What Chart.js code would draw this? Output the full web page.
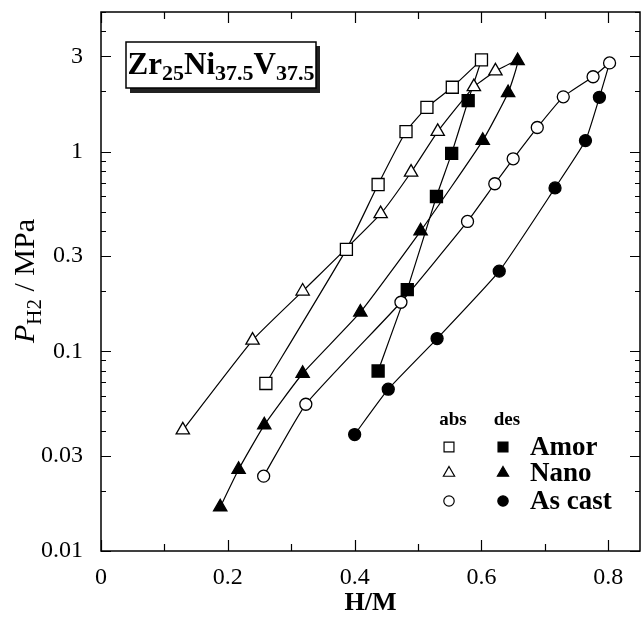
<!DOCTYPE html>
<html>
<head>
<meta charset="utf-8">
<script src="https://cdn.jsdelivr.net/npm/chart.js@4/dist/chart.umd.min.js"></script>
<style>
  html, body { margin: 0; padding: 0; background: #fff; }
</style>
</head>
<body>
<canvas id="pct" width="641" height="635"></canvas>
<script>
// H/M (x) and hydrogen pressure in MPa (y)
const amorAbsX = [0.260, 0.387, 0.437, 0.481, 0.514, 0.554, 0.600];
const amorAbsY = [0.069, 0.324, 0.684, 1.26, 1.665, 2.10, 2.88];
const amorDesX = [0.579, 0.553, 0.529, 0.483, 0.437];
const amorDesY = [1.80, 0.98, 0.596, 0.2035, 0.0797];

const nanoAbsX = [0.129, 0.239, 0.318, 0.441, 0.489, 0.531, 0.588, 0.622];
const nanoAbsY = [0.0403, 0.1135, 0.200, 0.488, 0.788, 1.26, 2.11, 2.53];
const nanoDesX = [0.657, 0.642, 0.602, 0.504, 0.409, 0.318, 0.2575, 0.217, 0.188];
const nanoDesY = [2.85, 1.97, 1.135, 0.40, 0.157, 0.0774, 0.0427, 0.0256, 0.0166];

const castAbsX = [0.2565, 0.323, 0.473, 0.578, 0.621, 0.650, 0.688, 0.729, 0.776, 0.802];
const castAbsY = [0.0237, 0.0543, 0.176, 0.447, 0.69, 0.92, 1.32, 1.88, 2.37, 2.78];
const castDesX = [0.786, 0.764, 0.716, 0.628, 0.530, 0.453, 0.400];
const castDesY = [1.87, 1.135, 0.658, 0.252, 0.1158, 0.0646, 0.0383];

// axis ticks
const xTickValues = [0, 0.1, 0.2, 0.3, 0.4, 0.5, 0.6, 0.7, 0.8];
const xTickLabels = ['0', '', '0.2', '', '0.4', '', '0.6', '', '0.8'];
const yMajorValues = [0.01, 0.03, 0.1, 0.3, 1, 3];
const yMajorLabels = ['0.01', '0.03', '0.1', '0.3', '1', '3'];

const seriesNames = ['Amor', 'Nano', 'As cast'];
const legendHeads = ['abs', 'des'];

const SERIF = '"Liberation Serif", "Times New Roman", serif';

function pts(xs, ys) {
  return xs.map((x, i) => ({ x: x, y: ys[i] }));
}

// link = last point of the absorption branch, so the desorption line starts there
function series(xs, ys, style, r, filled, link) {
  const data = pts(xs, ys);
  const radius = data.map(() => r);
  if (link) { data.unshift(link); radius.unshift(0); }
  return {
    data: data,
    pointStyle: style,
    pointRadius: radius,
    pointHoverRadius: radius,
    pointBackgroundColor: filled ? '#000' : '#fff',
    pointBorderColor: '#000',
    pointBorderWidth: 1.3,
    borderColor: '#000',
    borderWidth: 1.2,
    tension: 0.15,
    fill: false
  };
}

const lastOf = (xs, ys) => ({ x: xs[xs.length - 1], y: ys[ys.length - 1] });

// abs first so open markers sit on top of the des lines
const datasets = [
  series(amorAbsX, amorAbsY, 'rect', 8.5, false),
  series(nanoAbsX, nanoAbsY, 'triangle', 7.7, false),
  series(castAbsX, castAbsY, 'circle', 6, false),
  series(amorDesX, amorDesY, 'rect', 8.5, true, lastOf(amorAbsX, amorAbsY)),
  series(nanoDesX, nanoDesY, 'triangle', 7.7, true, lastOf(nanoAbsX, nanoAbsY)),
  series(castDesX, castDesY, 'circle', 6, true, lastOf(castAbsX, castAbsY))
];

// all decade multiples between 0.01 and 5
const yTickValues = [];
[0.01, 0.1, 1].forEach(d => {
  for (let m = 1; m <= 9; m++) {
    const v = +(m * d).toPrecision(3);
    if (v <= 5) yTickValues.push(v);
  }
});

function marker(ctx, style, r, x, y, filled) {
  ctx.fillStyle = filled ? '#000' : '#fff';
  ctx.strokeStyle = '#000';
  ctx.lineWidth = 1.2;
  Chart.helpers.drawPoint(ctx, { pointStyle: style, radius: r, rotation: 0, borderWidth: 1.2 }, x, y);
}

function drawRuns(ctx, runs, x, y) {
  runs.forEach(run => {
    ctx.font = run.font;
    ctx.fillText(run.text, x, y + (run.dy || 0));
    x += ctx.measureText(run.text).width;
  });
}

function runsWidth(ctx, runs) {
  let w = 0;
  runs.forEach(run => { ctx.font = run.font; w += ctx.measureText(run.text).width; });
  return w;
}

const decorations = {
  id: 'decorations',
  afterDatasetsDraw(chart) {
    const { ctx, chartArea: a, scales: { x, y } } = chart;
    ctx.save();

    // frame
    ctx.strokeStyle = '#000';
    ctx.lineWidth = 1.5;
    ctx.strokeRect(a.left, a.top, a.right - a.left, a.bottom - a.top);

    // inward ticks on all four sides
    ctx.lineWidth = 1.2;
    ctx.beginPath();
    x.ticks.forEach(t => {
      const px = Math.round(x.getPixelForValue(t.value)) + 0.5;
      const len = t.major ? 11 : 7;
      ctx.moveTo(px, a.bottom); ctx.lineTo(px, a.bottom - len);
      ctx.moveTo(px, a.top); ctx.lineTo(px, a.top + len);
    });
    y.ticks.forEach(t => {
      const py = Math.round(y.getPixelForValue(t.value)) + 0.5;
      const len = t.major ? 10 : 5;
      ctx.moveTo(a.left, py); ctx.lineTo(a.left + len, py);
      ctx.moveTo(a.right, py); ctx.lineTo(a.right - len, py);
    });
    ctx.stroke();

    // alloy name box with shadow
    ctx.fillStyle = '#222';
    ctx.fillRect(130, 46, 190, 47);
    ctx.fillStyle = '#fff';
    ctx.fillRect(126, 42, 190, 46);
    ctx.lineWidth = 1.5;
    ctx.strokeRect(126, 42, 190, 46);
    const big = 'bold 31px ' + SERIF;
    const sub = 'bold 22px ' + SERIF;
    const nameRuns = [
      { text: 'Zr', font: big }, { text: '25', font: sub, dy: 6 },
      { text: 'Ni', font: big }, { text: '37.5', font: sub, dy: 6 },
      { text: 'V', font: big }, { text: '37.5', font: sub, dy: 6 }
    ];
    ctx.fillStyle = '#000';
    ctx.textBaseline = 'alphabetic';
    ctx.textAlign = 'left';
    drawRuns(ctx, nameRuns, 221 - runsWidth(ctx, nameRuns) / 2, 74);

    // y axis title, rotated
    const yRuns = [
      { text: 'P', font: 'italic 30px ' + SERIF },
      { text: 'H2', font: '21px ' + SERIF, dy: 7 },
      { text: ' / MPa', font: '30px ' + SERIF }
    ];
    ctx.save();
    ctx.translate(34, 281);
    ctx.rotate(-Math.PI / 2);
    drawRuns(ctx, yRuns, -runsWidth(ctx, yRuns) / 2, 0);
    ctx.restore();

    // legend: abs / des columns
    const colX = [449, 503];
    const rowY = [447, 473, 501];
    const styles = ['rect', 'triangle', 'circle'];
    const radii = [7, 6.5, 5.2];
    ctx.font = 'bold 19px ' + SERIF;
    ctx.textAlign = 'center';
    ctx.textBaseline = 'middle';
    legendHeads.forEach((h, i) => ctx.fillText(h, colX[i] + 4, 420));
    seriesNames.forEach((name, i) => {
      marker(ctx, styles[i], radii[i], colX[0], rowY[i], false);
      marker(ctx, styles[i], radii[i], colX[1], rowY[i], true);
      ctx.fillStyle = '#000';
      ctx.font = 'bold 27px ' + SERIF;
      ctx.textAlign = 'left';
      ctx.fillText(name, 530, rowY[i] + 1);
    });

    ctx.restore();
  }
};

new Chart(document.getElementById('pct'), {
  type: 'line',
  data: { datasets: datasets },
  options: {
    responsive: false,
    animation: false,
    layout: { autoPadding: false, padding: { top: 12, right: 1, bottom: 0, left: 0 } },
    plugins: { legend: { display: false }, tooltip: { enabled: false } },
    scales: {
      x: {
        type: 'linear',
        min: 0,
        max: 0.85,
        afterBuildTicks: s => {
          s.ticks = xTickValues.map((v, i) => ({ value: v, major: xTickLabels[i] !== '' }));
        },
        afterFit: s => { s.height = 84; s.paddingLeft = 0; s.paddingRight = 0; },
        grid: { display: false },
        border: { display: false },
        ticks: {
          autoSkip: false,
          maxRotation: 0,
          padding: 4,
          color: '#000',
          font: { family: SERIF, size: 24 },
          callback: (v, i) => xTickLabels[i]
        },
        title: {
          display: true,
          text: 'H/M',
          color: '#000',
          font: { family: SERIF, size: 26, weight: 'bold' },
          padding: { top: 0, bottom: 16 }
        }
      },
      y: {
        type: 'logarithmic',
        min: 0.01,
        max: 5,
        afterBuildTicks: s => {
          s.ticks = yTickValues.map(v => ({ value: v, major: yMajorValues.includes(v) }));
        },
        afterFit: s => { s.width = 101; s.paddingTop = 0; s.paddingBottom = 0; },
        grid: { display: false },
        border: { display: false },
        ticks: {
          autoSkip: false,
          padding: 10,
          color: '#000',
          font: { family: SERIF, size: 24 },
          callback: v => {
            const k = yMajorValues.indexOf(v);
            return k >= 0 ? yMajorLabels[k] : '';
          }
        }
      }
    }
  },
  plugins: [decorations]
});
</script>
</body>
</html>
